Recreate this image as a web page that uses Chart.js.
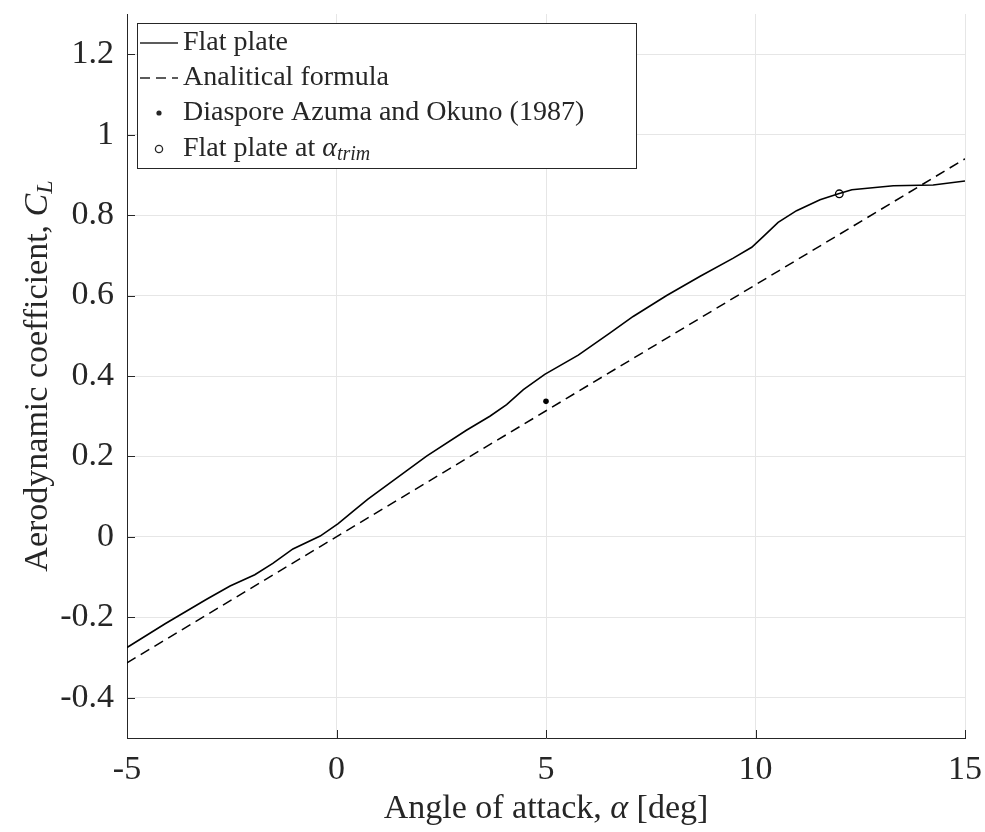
<!DOCTYPE html>
<html>
<head>
<meta charset="utf-8">
<script src="https://cdn.jsdelivr.net/npm/chart.js@4.4.1/dist/chart.umd.min.js"></script>
<style>
  html, body { margin: 0; padding: 0; background: #fff; }
  #wrap { width: 985px; height: 832px; }
</style>
</head>
<body>
<div id="wrap"><canvas id="cl"></canvas></div>
<script>
// lift curve of the flat plate, alpha in degrees
const alphaPlate = [-5, -4.09, -3.10, -2.54, -1.95, -1.52, -1.04, -0.39, 0.04, 0.4, 0.75, 1.67, 2.15, 3.1, 3.66,
  4.06, 4.46, 4.97, 5.77, 6.53, 7.08, 7.88, 8.68, 9.47, 9.91, 10.19, 10.54, 10.98, 11.54, 11.98, 12.30, 13.29, 14.24, 15];
const clPlate = [-0.275, -0.216, -0.155, -0.122, -0.094, -0.066, -0.030, 0.002, 0.033, 0.064, 0.094, 0.164, 0.201, 0.265, 0.300,
  0.329, 0.366, 0.404, 0.452, 0.507, 0.548, 0.600, 0.648, 0.693, 0.720, 0.747, 0.782, 0.811, 0.838, 0.853, 0.863, 0.873, 0.875, 0.885];

// analytical formula
const alphaFormula = [-5, 15];
const clFormula = [-0.313, 0.94];

// diaspore measurement and trim point
const alphaDiaspore = [5];
const clDiaspore = [0.337];
const alphaTrim = [12];
const clTrim = [0.853];

const xTicks = [-5, 0, 5, 10, 15];
const yTicks = [-0.4, -0.2, 0, 0.2, 0.4, 0.6, 0.8, 1, 1.2];

const SERIF = '"Liberation Serif", "DejaVu Serif", serif';
const INK = '#262626';
const GRID = '#e6e6e6';

const pts = (xs, ys) => xs.map((x, i) => ({ x, y: ys[i] }));

// write "plain + italic + subscript" runs at (x, y), left aligned, middle baseline
function richText(ctx, x, y, runs) {
  let cx = x;
  for (const r of runs) {
    ctx.font = (r.italic ? 'italic ' : '') + r.size + 'px ' + SERIF;
    ctx.fillText(r.text, cx, y + (r.dy || 0));
    cx += ctx.measureText(r.text).width;
  }
  return cx - x;
}
function richWidth(ctx, runs) {
  let w = 0;
  for (const r of runs) {
    ctx.font = (r.italic ? 'italic ' : '') + r.size + 'px ' + SERIF;
    w += ctx.measureText(r.text).width;
  }
  return w;
}

const decor = {
  id: 'decor',
  afterDraw(chart) {
    const { ctx, chartArea: a, scales: { x, y } } = chart;
    ctx.save();

    // inward tick marks
    ctx.strokeStyle = INK;
    ctx.lineWidth = 1;
    ctx.beginPath();
    xTicks.forEach(v => { const px = Math.round(x.getPixelForValue(v)) + 0.5; ctx.moveTo(px, a.bottom); ctx.lineTo(px, a.bottom - 8); });
    yTicks.forEach(v => { const py = Math.round(y.getPixelForValue(v)) + 0.5; ctx.moveTo(a.left, py); ctx.lineTo(a.left + 8, py); });
    ctx.stroke();

    ctx.fillStyle = INK;
    ctx.textBaseline = 'middle';

    // x axis title
    const xt = [
      { text: 'Angle of attack, ', size: 34 },
      { text: 'α', size: 34, italic: true },
      { text: ' [deg]', size: 34 }
    ];
    const xw = richWidth(ctx, xt);
    richText(ctx, (a.left + a.right) / 2 - xw / 2, 809, xt);

    // y axis title
    const yt = [
      { text: 'Aerodynamic coefficient, ', size: 34 },
      { text: 'C', size: 34, italic: true },
      { text: 'L', size: 24, italic: true, dy: 8 }
    ];
    const yw = richWidth(ctx, yt);
    ctx.save();
    ctx.translate(38, (a.top + a.bottom) / 2);
    ctx.rotate(-Math.PI / 2);
    richText(ctx, -yw / 2, 0, yt);
    ctx.restore();

    // legend box
    const L = 137, T = 23, R = 636, B = 168;
    ctx.fillStyle = '#fff';
    ctx.fillRect(L, T, R - L, B - T);
    ctx.strokeStyle = INK;
    ctx.strokeRect(L + 0.5, T + 0.5, R - L, B - T);

    const rows = [43, 78, 113, 149];
    const sx0 = 140, sx1 = 178, tx = 183;
    ctx.lineWidth = 1.5;
    ctx.beginPath(); ctx.moveTo(sx0, rows[0]); ctx.lineTo(sx1, rows[0]); ctx.stroke();
    ctx.setLineDash([10, 6]);
    ctx.beginPath(); ctx.moveTo(sx0, rows[1]); ctx.lineTo(sx1, rows[1]); ctx.stroke();
    ctx.setLineDash([]);
    ctx.fillStyle = INK;
    ctx.beginPath(); ctx.arc((sx0 + sx1) / 2, rows[2], 2.6, 0, Math.PI * 2); ctx.fill();
    ctx.lineWidth = 1.3;
    ctx.beginPath(); ctx.arc((sx0 + sx1) / 2, rows[3], 3.6, 0, Math.PI * 2); ctx.stroke();

    const fs = 28;
    richText(ctx, tx, rows[0], [{ text: 'Flat plate', size: fs }]);
    richText(ctx, tx, rows[1], [{ text: 'Analitical formula', size: fs }]);
    richText(ctx, tx, rows[2], [{ text: 'Diaspore Azuma and Okuno (1987)', size: fs }]);
    richText(ctx, tx, rows[3], [
      { text: 'Flat plate at ', size: fs },
      { text: 'α', size: fs, italic: true },
      { text: 'trim', size: 20, italic: true, dy: 6 }
    ]);
    ctx.restore();
  }
};

new Chart(document.getElementById('cl'), {
  type: 'scatter',
  data: {
    datasets: [
      {
        label: 'Flat plate',
        data: pts(alphaPlate, clPlate),
        showLine: true, borderColor: '#000', borderWidth: 1.6, pointRadius: 0, tension: 0
      },
      {
        label: 'Analitical formula',
        data: pts(alphaFormula, clFormula),
        showLine: true, borderColor: '#000', borderWidth: 1.5, borderDash: [10, 6], pointRadius: 0
      },
      {
        label: 'Diaspore Azuma and Okuno (1987)',
        data: pts(alphaDiaspore, clDiaspore),
        pointRadius: 2.8, pointBackgroundColor: '#000', pointBorderColor: '#000', pointBorderWidth: 0
      },
      {
        label: 'Flat plate at alpha_trim',
        data: pts(alphaTrim, clTrim),
        pointRadius: 3.8, pointBackgroundColor: 'rgba(0,0,0,0)', pointBorderColor: '#000', pointBorderWidth: 1.3
      }
    ]
  },
  options: {
    responsive: true, maintainAspectRatio: false, animation: false,
    layout: { padding: { top: 14, right: 20, left: 0, bottom: 0 } },
    plugins: { legend: { display: false }, tooltip: { enabled: false } },
    scales: {
      x: {
        type: 'linear', min: -5, max: 15,
        afterBuildTicks: s => { s.ticks = xTicks.map(v => ({ value: v })); },
        afterFit: s => { s.height = 94; s.paddingLeft = 0; s.paddingRight = 0; },
        grid: { color: GRID, drawTicks: false },
        border: { color: INK, width: 1 },
        ticks: { color: INK, padding: 12, font: { family: SERIF, size: 34 }, callback: v => String(v) }
      },
      y: {
        type: 'linear', min: -0.5, max: 1.3,
        afterBuildTicks: s => { s.ticks = yTicks.map(v => ({ value: v })); },
        afterFit: s => { s.width = 127; s.paddingTop = 0; s.paddingBottom = 0; },
        grid: { color: GRID, drawTicks: false },
        border: { color: INK, width: 1 },
        ticks: { color: INK, padding: 13, font: { family: SERIF, size: 34 }, callback: v => String(v) }
      }
    }
  },
  plugins: [decor]
});
</script>
</body>
</html>
